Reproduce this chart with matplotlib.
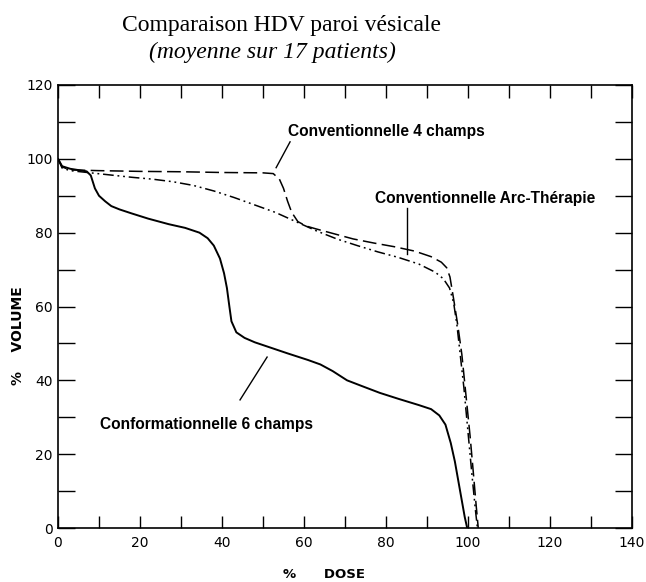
import matplotlib
matplotlib.use("Agg")
import matplotlib.pyplot as plt
from matplotlib.ticker import MultipleLocator

# Data
dose_conf = [0, 1, 3, 7, 8, 9, 10, 11.5, 13, 15, 18, 22, 27, 31, 34.5, 36.5, 38, 39.5, 40.5,
             41.2, 41.8, 42.3, 43.5, 45.5, 48, 52, 56, 61, 64, 67, 70.5, 74, 78.5, 83, 88, 91,
             93, 94.5, 95.8, 96.8, 97.6, 98.4, 99.2, 99.8]
vol_conf = [100, 98, 97.3, 96.6, 95.5, 92, 90, 88.5, 87.2, 86.3, 85.2, 83.8, 82.3, 81.3, 80,
            78.5, 76.5, 73, 69, 65, 60, 56, 53, 51.5, 50.3, 48.8, 47.3, 45.5, 44.3, 42.5, 40,
            38.5, 36.6, 35, 33.3, 32.2, 30.5, 28, 23, 18, 13, 8, 3, 0]

dose_4ch = [0, 1, 3, 10, 20, 30, 40, 50, 52.5, 54, 55, 56, 57, 58.5, 60.5, 63, 67, 72, 77, 82,
            87, 91, 93.5, 94.8, 95.6, 96.5, 97.5, 98.5, 99.5, 100.5, 101.3, 102, 102.5]
vol_4ch = [100, 97.8, 97, 96.8, 96.6, 96.5, 96.3, 96.2, 96, 94.5, 92, 88.5, 85.5, 83, 81.8, 81,
           79.8, 78.3, 77.2, 76.2, 75, 73.5, 72, 70.5, 68, 62, 55, 47, 36, 25, 15, 6, 0]

dose_arc = [0, 1, 3, 8, 13, 18, 23, 28, 33, 38, 43, 48, 53, 58, 63, 68, 73, 78, 83, 88, 92, 94,
            95.5, 96.5, 97.3, 98, 99, 100, 101, 101.8, 102.3]
vol_arc = [100, 97.5, 96.8, 96.2, 95.6, 95, 94.5, 93.8, 92.8, 91.3, 89.5, 87.5, 85.5, 83, 80.5,
           78.3, 76.5, 74.8, 73.3, 71.5, 69.3, 67.5, 65, 61, 55, 48, 38, 26, 14, 5, 0]

labels = ["Conformationnelle 6 champs", "Conventionnelle 4 champs",
          "Conventionnelle Arc-Thérapie"]
title = "Comparaison HDV paroi vésicale"
subtitle = "(moyenne sur 17 patients)"
x_ticks = [0, 20, 40, 60, 80, 100, 120, 140]
y_ticks = [0, 20, 40, 60, 80, 100, 120]

fig = plt.figure(figsize=(6.46, 5.82), dpi=100)
ax = fig.add_axes([58 / 646, 1 - 528 / 582, (632 - 58) / 646, (528 - 85) / 582])

ax.plot(dose_conf, vol_conf, color="black", lw=1.4, solid_capstyle="round")
ax.plot(dose_4ch, vol_4ch, color="black", lw=1.1, dashes=(9, 3.5))
ax.plot(dose_arc, vol_arc, color="black", lw=1.1, dashes=(7, 2.5, 1.2, 2.5, 1.2, 2.5))

ax.set_xlim(0, 140)
ax.set_ylim(0, 120)
ax.set_xticks(x_ticks)
ax.set_yticks(y_ticks)
ax.xaxis.set_minor_locator(MultipleLocator(10))
ax.yaxis.set_minor_locator(MultipleLocator(10))
ax.tick_params(which="both", direction="in", top=True, right=True, color="black", width=1.0)
ax.tick_params(axis="x", which="both", length=9)
ax.tick_params(axis="y", which="both", length=12)
ax.tick_params(axis="x", which="major", labelsize=10, pad=6)
ax.tick_params(axis="y", which="major", labelsize=10, pad=4)
for lab in ax.get_xticklabels() + ax.get_yticklabels():
    lab.set_family("DejaVu Sans")
for s in ax.spines.values():
    s.set_linewidth(1.2)
    s.set_color("black")

# Annotations
bold = dict(family="Liberation Sans", fontweight="bold", fontsize=11.2, color="black")
ax.text(56, 107.5, labels[1], ha="left", va="center", **bold)
ax.plot([53.2, 56.6], [97.6, 104.6], color="black", lw=1.0)
ax.text(77.3, 89.3, labels[2], ha="left", va="center", **bold)
ax.plot([85.1, 85.1], [86.7, 74.2], color="black", lw=1.0)
ax.text(10.2, 28, labels[0], ha="left", va="center", **bold)
ax.plot([44.4, 51.0], [34.7, 46.3], color="black", lw=1.0)

# Axis labels
fig.text(18 / 646, 1 - 336 / 582, "%    VOLUME", rotation=90, ha="center", va="center",
         family="DejaVu Sans", fontweight="bold", fontsize=10)
fig.text(324 / 646, 1 - 574 / 582, "%      DOSE", ha="center", va="center",
         family="DejaVu Sans", fontweight="bold", fontsize=9.5)

# Titles
fig.text(282 / 646, 1 - 25 / 582, title, ha="center", va="center",
         family="Liberation Serif", fontsize=17)
fig.text(272 / 646, 1 - 52 / 582, subtitle, ha="center", va="center",
         family="Liberation Serif", style="italic", fontsize=17)

fig.savefig("out.png", dpi=100)
